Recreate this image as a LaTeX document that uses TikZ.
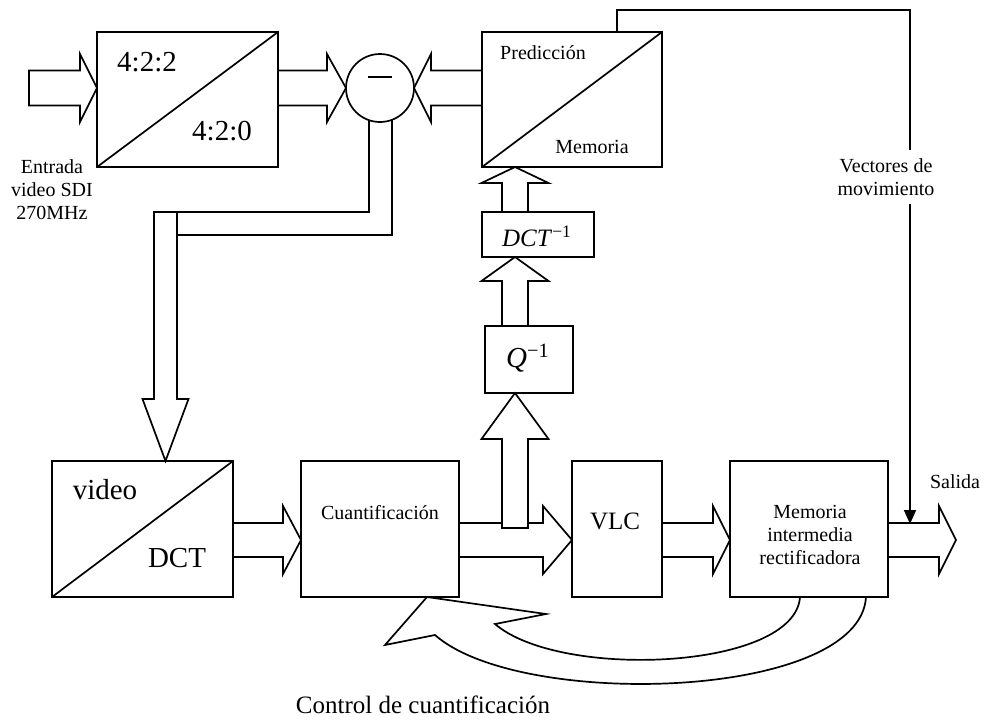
\documentclass[tikz,border=0pt]{standalone}
\usepackage{fontspec}
\setmainfont{Liberation Serif}
\usetikzlibrary{calc,arrows.meta}

\tikzset{
  blk/.style={draw, anchor=north west, inner sep=0pt, outer sep=0pt},
  lbl/.style={inner sep=0pt, align=center},
}
\newcommand{\smltxt}{\fontsize{10pt}{11.5pt}\selectfont}
\newcommand{\mdmtxt}{\fontsize{12.5pt}{14pt}\selectfont}
\newcommand{\bigtxt}{\fontsize{14.5pt}{16pt}\selectfont}

% tail, tip, half shaft, half head, head length
\newcommand{\blockarrow}[5]{%
  \coordinate (ba-t) at #1;
  \coordinate (ba-h) at #2;
  \coordinate (ba-b) at ($(ba-h)!#5!(ba-t)$);
  \draw[fill=white] ($(ba-t)!#3!90:(ba-h)$) -- ($(ba-b)!#3!90:(ba-h)$)
    -- ($(ba-b)!#4!90:(ba-h)$) -- (ba-h) -- ($(ba-b)!#4!-90:(ba-h)$)
    -- ($(ba-b)!#3!-90:(ba-h)$) -- ($(ba-t)!#3!-90:(ba-h)$) -- cycle;}

\begin{document}
\begin{tikzpicture}[x=0.5pt, y=-0.5pt, line width=0.85pt]
\useasboundingbox (0,0) rectangle (984,723);

\node[blk, minimum width=90.5pt, minimum height=67.5pt] (conv) at (97,32) {};
\node[blk, minimum width=90pt, minimum height=67.5pt] (pred) at (482,32) {};
\node[blk, minimum width=56pt, minimum height=22.5pt] (idct) at (482,212) {};
\node[blk, minimum width=44pt, minimum height=33.5pt] (iq) at (485,326) {};
\node[blk, minimum width=90.5pt, minimum height=68pt] (dct) at (52,461) {};
\node[blk, minimum width=79pt, minimum height=68pt] (quant) at (301,461) {};
\node[blk, minimum width=45pt, minimum height=68pt] (vlc) at (572,461) {};
\node[blk, minimum width=79pt, minimum height=68pt] (buf) at (730,461) {};
\node[circle, draw, minimum size=34pt, inner sep=0pt, outer sep=0pt] (sub) at (380,88) {};

\draw (conv.south west) -- (conv.north east);
\draw (pred.south west) -- (pred.north east);
\draw (dct.south west) -- (dct.north east);
\draw[line width=0.6pt] ($(sub)+(-12,-11)$) -- ($(sub)+(12,-11)$);

\node[lbl, font=\bigtxt] (t422) at (147,62) {4:2:2};
\node[lbl, font=\bigtxt] (t420) at (222,131) {4:2:0};
\node[lbl, font=\smltxt] (tpred) at (543,53) {Predicción};
\node[lbl, font=\smltxt] (tmem) at (592,147) {Memoria};
\node[lbl, font=\mdmtxt] (tidct) at (537,236) {\textit{DCT}\textsuperscript{−1}};
\node[lbl, font=\bigtxt] (tiq) at (528,358) {\textit{Q}\textsuperscript{−1}};
\node[lbl, font=\bigtxt] (tvid) at (105,490) {video};
\node[lbl, font=\bigtxt] (tdct) at (177,558) {DCT};
\node[lbl, font=\smltxt] (tquant) at (380,513) {Cuantificación};
\node[lbl, font=\mdmtxt] (tvlc) at (615,521) {VLC};
\node[lbl, font=\smltxt] (tbuf) at (810,535) {Memoria\\intermedia\\rectificadora};
\node[lbl, font=\smltxt] (inlbl) at (52,190) {Entrada\\video SDI\\270MHz};
\node[lbl, font=\smltxt] (outlbl) at (955,482) {Salida};
\node[lbl, font=\smltxt, inner sep=4pt] (vec) at (886,177) {Vectores de\\movimiento};
\node[lbl, font=\mdmtxt] (ctl) at (423,705) {Control de cuantificación};

\coordinate (in) at (29,88);
\coordinate (out) at (956,540);
\coordinate (row) at (0,540);
\coordinate (col) at (515,0);
\coordinate (dtail) at (165.5,212);
\coordinate (mvtop) at (910,10);
\coordinate (mvtip) at (910,524);

\blockarrow{(in)}{(conv.west |- sub)}{8.75pt}{17pt}{8.5pt}
\blockarrow{(conv.east |- sub)}{(sub.west)}{8.75pt}{17pt}{9.5pt}
\blockarrow{(pred.west |- sub)}{(sub.east)}{8.75pt}{17pt}{8.5pt}
\blockarrow{(col |- idct.north)}{(col |- pred.south)}{6.5pt}{16.75pt}{8pt}
\blockarrow{(col |- iq.north)}{(col |- idct.south)}{6.5pt}{16.75pt}{12pt}
\blockarrow{(dtail)}{(dct.north west -| dtail)}{5.75pt}{11.5pt}{31pt}
\blockarrow{(dct.east |- row)}{(quant.west |- row)}{8.5pt}{17pt}{9pt}
\blockarrow{(quant.east |- row)}{(vlc.west |- row)}{8.5pt}{17pt}{14.5pt}
\blockarrow{(vlc.east |- row)}{(buf.west |- row)}{8.5pt}{17pt}{8.5pt}
\blockarrow{(buf.east |- row)}{(out)}{8.5pt}{17pt}{8.5pt}
\blockarrow{($(col |- row)+(0,-12)$)}{(col |- iq.south)}{6.5pt}{16.75pt}{23pt}

\draw (sub.-109) |- ($(dtail)+(-11.5,0)$);
\draw (sub.-69) |- ($(dtail)+(11.5,23)$);

\draw ($(pred.north west)+(135,0)$) |- (mvtop) -- (mvtop |- vec.north);
\draw[-{Triangle[length=7pt,width=6pt]}] (mvtop |- vec.south) -- (mvtip);

\coordinate (fbtip) at ($(quant.south west)+(126,0)$);
\coordinate (fbin) at ($(buf.south west)+(70,0)$);
\coordinate (fbout) at ($(buf.south west)+(136,0)$);
\draw[fill=white] (fbtip) -- (546,614) -- (495,624) .. controls (560,680) and (795,670) .. (fbin)
  -- (fbout) .. controls (860,700) and (520,710) .. (435,635) -- (385,645) -- cycle;
\end{tikzpicture}
\end{document}
